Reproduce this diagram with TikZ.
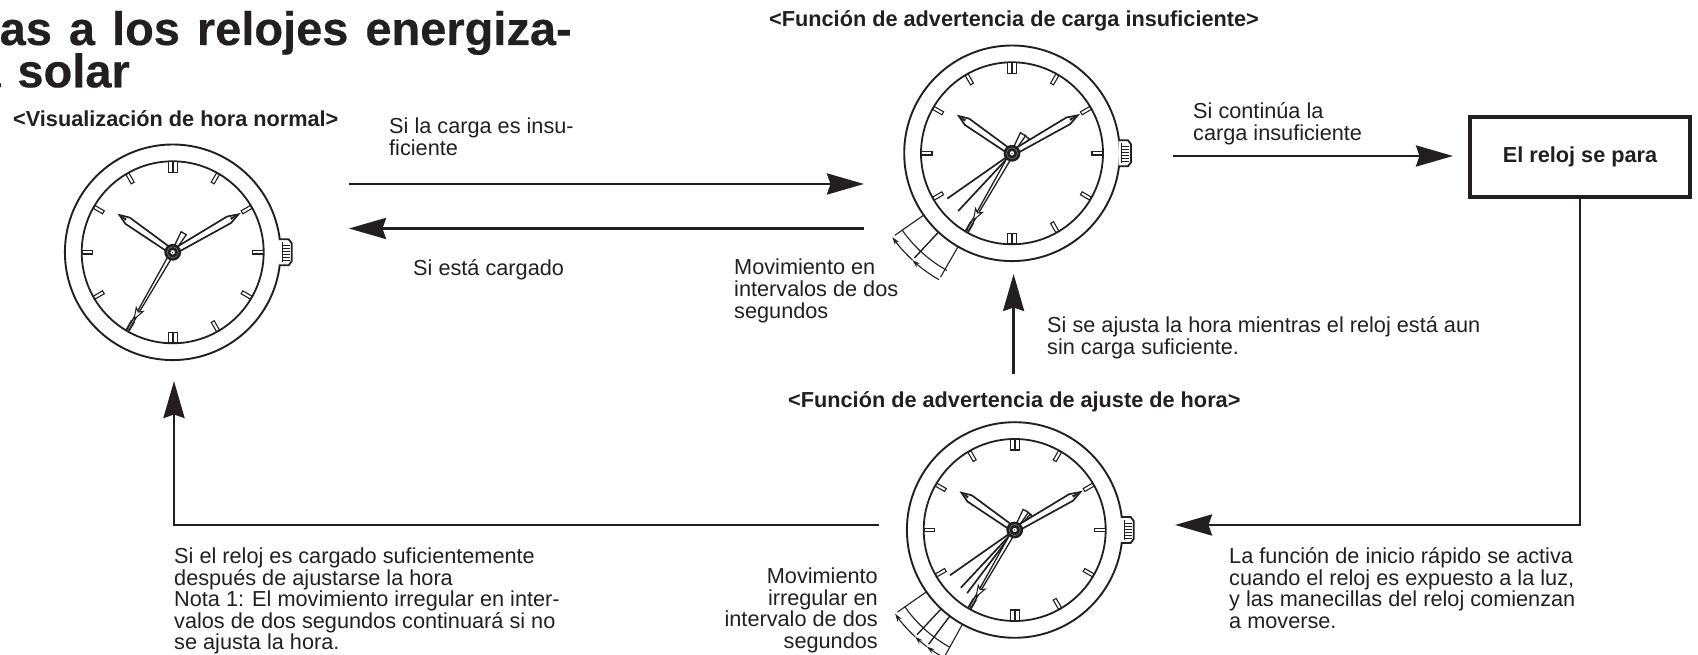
\documentclass[tikz,border=0pt]{standalone}
\usepackage{fontspec}
\usepackage{xcolor}
\usetikzlibrary{arrows.meta}
\setmainfont{Liberation Sans}
\newfontfamily\titlefont{Liberation Sans}[WordSpace=1.3,FakeBold=0.4]
\definecolor{inkdark}{HTML}{231F20}
\tikzset{
	bigarrow/.style={draw=inkdark,line width=2.9pt,-{Stealth[length=37pt,width=21pt,inset=3.5pt]}},
	bezel/.style={draw=inkdark,circle,fill=white,line width=1.9pt,minimum size=215.6pt,inner sep=0pt},
	ringline/.style={draw=inkdark,line width=1.8pt},
	thinline/.style={draw=inkdark,line width=1.1pt},
	handshape/.style={draw=inkdark,fill=white,line width=1.7pt,line join=miter},
	note/.style={text=inkdark,inner sep=0pt,font=\fontsize{21.7}{21.6}\selectfont,align=left},
	heading/.style={text=inkdark,inner sep=0pt,font=\fontsize{21.7}{21.7}\selectfont\bfseries},
	bigtitle/.style={text=inkdark,inner sep=0pt,font=\titlefont\fontsize{47}{47}\selectfont\bfseries},
	watchdial/.pic={
		% crown
		\draw[ringline,fill=white] (106.5,-13) -- (116,-13) -- (119,-9) -- (119,9) -- (116,13) -- (106.5,13);
		\draw[thinline] (109.5,-10) -- (109.5,10);
		\foreach \yy in {-8,-5,-2,1,4,7}
			\draw[inkdark,line width=.9pt] (109.5,\yy) -- (117,\yy);
		\draw[ringline] (0,0) circle (91);
		\foreach \a in {30,60,120,150,210,240,300,330,0,180}
			\draw[inkdark,fill=white,line width=1.1pt,rotate=\a] (80,-1.7) rectangle (90.5,1.7);
		\foreach \a in {90,270}
			\foreach \b in {-2.4,2.4}
				\draw[inkdark,fill=white,line width=1.1pt,rotate=\a,yshift=\b pt] (80,-2.1) rectangle (90.5,2.1);
	},
	counterweight/.pic={
		\draw[handshape,line width=1.3pt] (4,-1.5) -- (22,-3) -- (22,3) -- (4,1.5) -- cycle;
	},
	secondhand/.pic={
		\draw[handshape,line width=1.3pt] (4,-2) -- (66,-1) -- (89,-1) -- (89,1) -- (66,1) -- (4,2) -- cycle;
		\draw[handshape,line width=1pt] (66,-4) -- (77,0) -- (66,4) -- (69,0) -- cycle;
	},
	watchhands/.pic={
		\pic[rotate=60] {counterweight};
		\pic[rotate=240] {secondhand};
		\draw[handshape,rotate=145] (6,-2.6) -- (55,-3.8) -- (65,0) -- (55,3.8) -- (6,2.6) -- cycle;
		\fill[inkdark,rotate=145] (57,-1.2) -- (65,0) -- (57,1.2) -- cycle;
		\draw[handshape,rotate=30] (6,-2.6) -- (65,-3.8) -- (76,0) -- (65,3.8) -- (6,2.6) -- cycle;
		\fill[inkdark,rotate=30] (67,-1.2) -- (76,0) -- (67,1.2) -- cycle;
		\fill[inkdark] (0,0) circle (8.4);
		\draw[gray,line width=.5pt] (0,0) circle (5.6);
		\draw[inkdark,fill=white,line width=.9pt] (0,0) circle (2.8);
		\fill[inkdark] (0,0) circle (.7);
	},
	sweepmark/.pic={
		\draw[thinline] (215:134) arc (215:241:134);
		\foreach \a/\b in {#1}
		{
			\draw[thinline] (\a:108) -- (\a:143);
			\draw[thinline] (\b:108) -- (\b:143);
			\draw[thinline,-{Stealth[length=8pt,width=5pt]}] (\b:146) arc (\b:\a:146);
		}
	}
}
\begin{document}
\begin{tikzpicture}[x=1pt,y=1pt]
	\useasboundingbox (0,0) rectangle (1698,655);

	% title
	\node[bigtitle,anchor=base east] (titleone) at (572,610) {as a los relojes energiza-};
	\node[bigtitle,anchor=base east] (titletwo) at (130,567.7) {a solar};

	% normal watch
	\node[heading,anchor=base west] (normalhead) at (13,528) {<Visualización de hora normal>};
	\node[bezel] (normalwatch) at (172.7,402.7) {};
	\pic at (normalwatch) {watchdial};
	\pic at (normalwatch) {watchhands};

	% watch with insufficient charge
	\node[heading,anchor=base west] (chargehead) at (769,628) {<Función de advertencia de carga insuficiente>};
	\node[bezel] (chargewatch) at (1012,501.7) {};
	\pic at (chargewatch) {watchdial};
	\pic at (chargewatch) {sweepmark={215/227,227/240}};
	\foreach \a in {215,227}
	{
		\draw[inkdark,line width=1.7pt,shift={(chargewatch)}] (0,0) -- (\a:79);
		\pic[rotate=\a-180] at (chargewatch) {counterweight};
	}
	\pic at (chargewatch) {watchhands};

	% watch after setting the time
	\node[heading,anchor=base west] (timehead) at (788,247) {<Función de advertencia de ajuste de hora>};
	\node[bezel] (timewatch) at (1014.7,125) {};
	\pic at (timewatch) {watchdial};
	\pic at (timewatch) {sweepmark={215/227,227/233,233/241}};
	\foreach \a in {215,227,233}
	{
		\draw[inkdark,line width=1.7pt,shift={(timewatch)}] (0,0) -- (\a:79);
		\pic[rotate=\a-180] at (timewatch) {counterweight};
	}
	\pic at (timewatch) {watchhands};

	% stopped box
	\node[draw=inkdark,line width=3.4pt,minimum width=220pt,minimum height=80pt,inner sep=0pt,heading] (stopbox) at (1580,498) {El reloj se para};

	% connector ends
	\coordinate (chargeleft) at (349,471);
	\coordinate (chargeright) at (864,471);
	\coordinate (backright) at (864,426.5);
	\coordinate (backleft) at (349,426.5);
	\coordinate (stopstart) at (1173,499);
	\coordinate (stopend) at (1453,499);
	\coordinate (quickend) at (1175,130);
	\coordinate (setstart) at (1013.6,281.4);
	\coordinate (setend) at (1013.6,381);
	\coordinate (lowstart) at (879,130);
	\coordinate (lowend) at (174,274);

	\draw[bigarrow] (chargeleft) -- (chargeright);
	\draw[bigarrow] (backright) -- (backleft);
	\draw[bigarrow] (stopstart) -- (stopend);
	\draw[bigarrow] (stopbox.south) |- (quickend);
	\draw[bigarrow] (setstart) -- (setend);
	\draw[bigarrow] (lowstart) -| (lowend);

	% notes
	\node[note,anchor=north west] (notelow) at (389,537.5) {Si la carga es insu-\\ficiente};
	\node[note,anchor=base west] (notecharged) at (413,379) {Si está cargado};
	\node[note,anchor=north west] (notecontinue) at (1193,552.5) {Si continúa la\\carga insuficiente};
	\node[note,anchor=north west] (notetwo) at (734,396) {Movimiento en\\intervalos de dos\\segundos};
	\node[note,anchor=north west] (noteset) at (1047,338.5) {Si se ajusta la hora mientras el reloj está aun\\sin carga suficiente.};
	\node[note,anchor=north west] (notequick) at (1229,107.5) {La función de inicio rápido se activa\\cuando el reloj es expuesto a la luz,\\y las manecillas del reloj comienzan\\a moverse.};
	\node[note,anchor=north west] (noteafter) at (174,107.5) {Si el reloj es cargado suficientemente\\después de ajustarse la hora\\Nota 1: El movimiento irregular en inter-\\valos de dos segundos continuará si no\\se ajusta la hora.};
	\node[note,align=right,anchor=north east] (noteirregular) at (878,87.5) {Movimiento\\irregular en\\intervalo de dos\\segundos};
\end{tikzpicture}
\end{document}
